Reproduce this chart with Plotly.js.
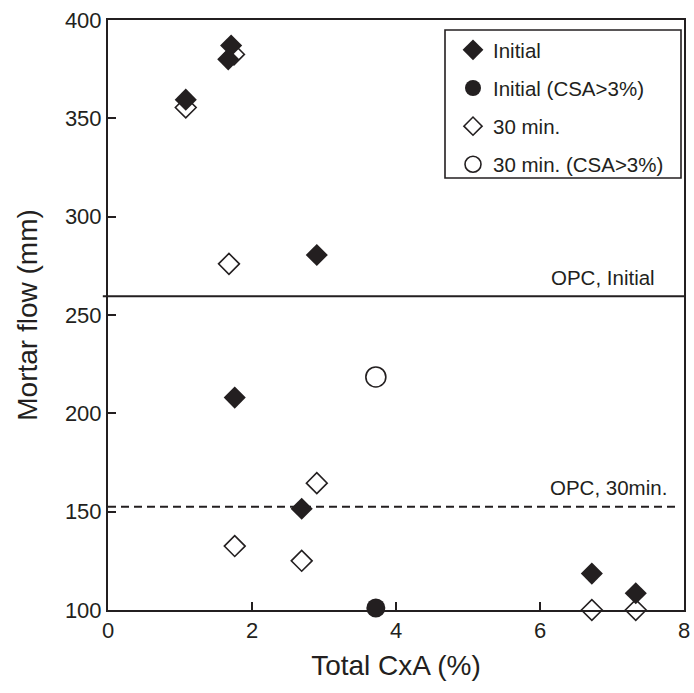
<!DOCTYPE html>
<html>
<head>
<meta charset="utf-8">
<script src="https://cdn.plot.ly/plotly-3.0.1.min.js"></script>
<style>html,body{margin:0;padding:0;background:#fff;}#chart{width:694px;height:693px;}</style>
</head>
<body>
<div id="chart"></div>
<script>
// Data
const initialX = [1.08, 1.71, 1.67, 2.90, 1.76, 2.69, 6.72, 7.33];
const initialY = [359.5, 387, 380, 280.5, 208, 151.5, 118.5, 108.5];
const initialCsaX = [3.72];
const initialCsaY = [101];
const min30X = [1.08, 1.75, 1.68, 1.76, 2.90, 2.69, 6.72, 7.33];
const min30Y = [355.5, 382.5, 276, 132.5, 164.5, 125, 100, 100];
const min30CsaX = [3.72];
const min30CsaY = [218.5];
const opcInitial = 259.5;
const opc30 = 152.5;
const seriesNames = ["Initial", "Initial (CSA>3%)", "30 min.", "30 min. (CSA>3%)"];
const refLabels = ["OPC, Initial", "OPC, 30min."];
const xTicks = [0, 2, 4, 6, 8];
const yTicks = [100, 150, 200, 250, 300, 350, 400];

const ink = '#231f20';
const font = 'Liberation Sans, Arial, sans-serif';

const traces = [
  {x: min30X, y: min30Y, name: seriesNames[2], mode: 'markers', type: 'scatter', cliponaxis: false,
   marker: {symbol: 'diamond-open', size: 16, color: ink, line: {width: 1.6, color: ink}}, showlegend: false},
  {x: min30CsaX, y: min30CsaY, name: seriesNames[3], mode: 'markers', type: 'scatter', cliponaxis: false,
   marker: {symbol: 'circle-open', size: 20, color: ink, line: {width: 1.6, color: ink}}, showlegend: false},
  {x: initialX, y: initialY, name: seriesNames[0], mode: 'markers', type: 'scatter', cliponaxis: false,
   marker: {symbol: 'diamond', size: 17, color: ink, line: {width: 0}}, showlegend: false},
  {x: initialCsaX, y: initialCsaY, name: seriesNames[1], mode: 'markers', type: 'scatter', cliponaxis: false,
   marker: {symbol: 'circle', size: 19, color: ink, line: {width: 0}}, showlegend: false},
  // legend entries in reference order
  {x: [null], y: [null], name: seriesNames[0], legendgroup: 'a', mode: 'markers', type: 'scatter', legendrank: 1,
   marker: {symbol: 'diamond', size: 16, color: ink}},
  {x: [null], y: [null], name: seriesNames[1], legendgroup: 'b', mode: 'markers', type: 'scatter', legendrank: 2,
   marker: {symbol: 'circle', size: 18, color: ink}},
  {x: [null], y: [null], name: seriesNames[2], legendgroup: 'c', mode: 'markers', type: 'scatter', legendrank: 3,
   marker: {symbol: 'diamond-open', size: 14, color: ink, line: {width: 1.6, color: ink}}},
  {x: [null], y: [null], name: seriesNames[3], legendgroup: 'd', mode: 'markers', type: 'scatter', legendrank: 4,
   marker: {symbol: 'circle-open', size: 16, color: ink, line: {width: 1.6, color: ink}}}
];

const px = v => (v - 108) / 576;
const py = v => (610 - v) / 590;

const layout = {
  width: 694, height: 693,
  margin: {l: 108, r: 10, t: 20, b: 83},
  paper_bgcolor: '#fff', plot_bgcolor: '#fff',
  font: {family: font, size: 20, color: ink},
  showlegend: true,
  legend: {
    x: px(453), y: py(30), xanchor: 'left', yanchor: 'top',
    bgcolor: 'rgba(0,0,0,0)', borderwidth: 0,
    font: {family: font, size: 20.5, color: ink},
    tracegroupgap: 8.5, itemsizing: 'trace', traceorder: 'grouped'
  },
  xaxis: {
    range: [0, 8], tickvals: xTicks, ticktext: xTicks.map(String),
    showgrid: false, zeroline: false, showline: true, mirror: true,
    linecolor: ink, linewidth: 2, ticks: 'inside', ticklen: 8, tickwidth: 1.8, tickcolor: ink,
    tickfont: {family: font, size: 22, color: ink},
    title: {text: 'Total CxA (%)', font: {family: font, size: 28, color: ink}, standoff: 13}
  },
  yaxis: {
    range: [100, 400], tickvals: yTicks, ticktext: yTicks.map(String),
    showgrid: false, zeroline: false, showline: true, mirror: true,
    linecolor: ink, linewidth: 2, ticks: 'inside', ticklen: 8, tickwidth: 1.8, tickcolor: ink,
    tickfont: {family: font, size: 22, color: ink},
    title: {text: 'Mortar flow (mm)', font: {family: font, size: 28, color: ink}, standoff: 19}
  },
  shapes: [
    {type: 'rect', xref: 'paper', yref: 'paper', x0: px(445), x1: px(681), y0: py(178), y1: py(30),
     line: {color: ink, width: 1.6}, fillcolor: '#fff', layer: 'below'},
    {type: 'line', xref: 'paper', yref: 'y', x0: -0.009, x1: 1, y0: opcInitial, y1: opcInitial,
     line: {color: ink, width: 2}},
    {type: 'line', xref: 'x', yref: 'y', x0: 0, x1: 7.875, y0: opc30, y1: opc30,
     line: {color: ink, width: 2, dash: '8px,5px'}}
  ],
  annotations: [
    {xref: 'x', yref: 'y', x: 7.62, y: opcInitial, text: refLabels[0], showarrow: false,
     xanchor: 'right', yanchor: 'bottom', yshift: 5, font: {family: font, size: 20.5, color: ink}},
    {xref: 'x', yref: 'y', x: 7.79, y: opc30, text: refLabels[1], showarrow: false,
     xanchor: 'right', yanchor: 'bottom', yshift: 6, font: {family: font, size: 20.5, color: ink}}
  ]
};

Plotly.newPlot('chart', traces, layout, {displayModeBar: false, staticPlot: true});
</script>
</body>
</html>
